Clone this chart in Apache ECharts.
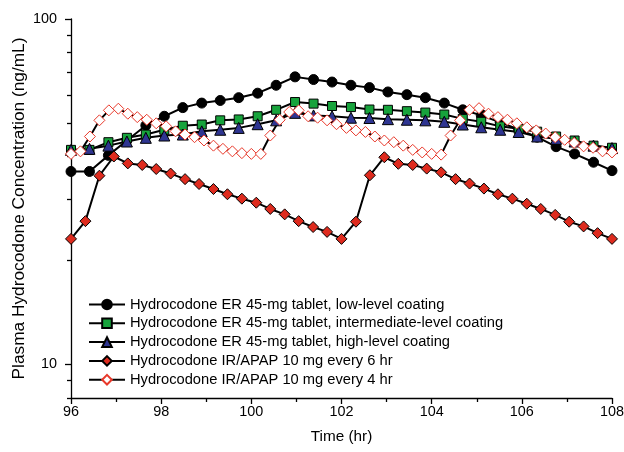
<!DOCTYPE html>
<html>
<head>
<meta charset="utf-8">
<script src="https://cdn.jsdelivr.net/npm/echarts@6/dist/echarts.min.js"></script>
<style>
  html, body { margin: 0; padding: 0; background: #fff; }
  #chart { width: 624px; height: 452px; }
</style>
</head>
<body>
<div id="chart"></div>
<script>
// sample times (hr)
const erTimes = [96, 96.41, 96.83, 97.24, 97.66, 98.07, 98.48, 98.9, 99.31, 99.72,
  100.14, 100.55, 100.97, 101.38, 101.79, 102.21, 102.62, 103.03, 103.45, 103.86,
  104.28, 104.69, 105.1, 105.52, 105.93, 106.34, 106.76, 107.17, 107.59, 108]
const q6hTimes = [96, 96.32, 96.63, 96.95, 97.26, 97.58, 97.89, 98.21, 98.53, 98.84,
  99.16, 99.47, 99.79, 100.11, 100.42, 100.74, 101.05, 101.37, 101.68, 102,
  102.32, 102.63, 102.95, 103.26, 103.58, 103.89, 104.21, 104.53, 104.84, 105.16,
  105.47, 105.79, 106.11, 106.42, 106.74, 107.05, 107.37, 107.68, 108]
const q4hTimes = [96, 96.21, 96.42, 96.63, 96.84, 97.05, 97.26, 97.47, 97.68, 97.89,
  98.11, 98.32, 98.53, 98.74, 98.95, 99.16, 99.37, 99.58, 99.79, 100,
  100.21, 100.42, 100.63, 100.84, 101.05, 101.26, 101.47, 101.68, 101.89, 102.11,
  102.32, 102.53, 102.74, 102.95, 103.16, 103.37, 103.58, 103.79, 104,
  104.21, 104.42, 104.63, 104.84, 105.05, 105.26, 105.47, 105.68, 105.89, 106.11,
  106.32, 106.53, 106.74, 106.95, 107.16, 107.37, 107.58, 107.79, 108]

// concentrations (ng/mL)
const lowCoat = [36.2, 36.2, 40.3, 44.5, 49.2, 52.3, 55.4, 57.1, 58.1, 59.2,
  61.0, 64.3, 68.0, 66.8, 65.7, 64.3, 63.3, 61.5, 60.4, 59.2,
  57.1, 54.6, 52.6, 50.2, 47.9, 45.5, 42.7, 40.7, 38.5, 36.4]
const midCoat = [41.8, 41.8, 44.0, 45.3, 46.3, 47.8, 49.1, 49.5, 50.9, 51.2,
  52.3, 54.6, 57.5, 56.9, 56.0, 55.6, 54.7, 54.6, 54.1, 53.6,
  52.9, 51.4, 50.4, 48.9, 48.1, 47.2, 45.7, 44.5, 43.0, 42.4]
const highCoat = [41.8, 42.1, 43.0, 44.2, 45.3, 46.0, 46.3, 47.3, 47.8, 48.4,
  49.6, 50.9, 53.5, 52.6, 52.3, 51.8, 51.7, 51.3, 51.1, 50.9,
  50.4, 49.5, 48.6, 47.8, 47.1, 45.7, 45.0, 44.2, 43.0, 42.3]
const irQ6h = [23.1, 26.0, 35.2, 40.0, 38.2, 37.8, 36.8, 35.7, 34.4, 33.3,
  32.2, 31.1, 30.2, 29.4, 28.2, 27.2, 26.0, 25.0, 24.2, 23.1,
  25.9, 35.3, 39.8, 38.1, 37.8, 36.9, 36.0, 34.4, 33.4, 32.3,
  31.1, 30.2, 29.2, 28.2, 27.1, 25.9, 25.1, 24.0, 23.1]
const irQ4h = [40.7, 41.4, 45.7, 50.9, 54.4, 55.0, 53.2, 52.0, 51.1, 49.9,
  48.9, 47.3, 46.3, 45.5, 44.5, 43.0, 42.1, 41.4, 40.9, 40.7,
  40.7, 46.0, 51.1, 53.8, 54.4, 52.3, 51.8, 50.9, 49.6, 48.4,
  47.6, 47.1, 45.7, 44.5, 44.0, 43.0, 41.8, 41.1, 40.7,
  40.5, 46.0, 50.9, 54.6, 55.2, 53.2, 52.0, 51.1, 49.9, 48.6,
  47.6, 46.6, 45.5, 44.7, 43.8, 42.8, 42.4, 41.4, 41.1]

const seriesNames = [
  'Hydrocodone ER 45-mg tablet, low-level coating',
  'Hydrocodone ER 45-mg tablet, intermediate-level coating',
  'Hydrocodone ER 45-mg tablet, high-level coating',
  'Hydrocodone IR/APAP 10 mg every 6 hr',
  'Hydrocodone IR/APAP 10 mg every 4 hr'
]
const xTicks = [96, 98, 100, 102, 104, 106, 108]
const yMajorTicks = [10, 100]
const yMinorTicks = [8, 9, 20, 30, 40, 50, 60, 70, 80, 90]

const font = 'Liberation Sans, Arial, sans-serif'
const zip = (xs, ys) => xs.map((x, i) => [x, ys[i]])

const makeSeries = (name, times, values, symbol, size, color, border) => ({
  name: name,
  type: 'line',
  data: zip(times, values),
  symbol: symbol,
  symbolSize: size,
  showAllSymbol: true,
  lineStyle: { color: '#000', width: 2 },
  itemStyle: { color: color, borderColor: border, borderWidth: 1 },
  emphasis: { disabled: true },
  animation: false
})

const chart = echarts.init(document.getElementById('chart'), null, { renderer: 'canvas' })
chart.setOption({
  animation: false,
  textStyle: { fontFamily: font },
  grid: { left: 71, right: 12, top: 19, bottom: 54, containLabel: false, outerBoundsMode: 'none' },
  legend: {
    orient: 'vertical',
    left: 83,
    top: 292,
    itemWidth: 36,
    itemHeight: 12,
    itemGap: 3.8,
    textStyle: { fontFamily: font, fontSize: 14.7, color: '#000', lineHeight: 14 },
    data: seriesNames
  },
  xAxis: {
    type: 'value',
    min: 96,
    max: 108,
    interval: 2,
    name: 'Time (hr)',
    nameLocation: 'middle',
    nameGap: 31,
    nameMoveOverlap: false,
    nameTextStyle: { fontFamily: font, fontSize: 15.3, color: '#000' },
    axisLine: { lineStyle: { color: '#000', width: 1.3 } },
    axisTick: { length: 6, lineStyle: { color: '#000', width: 1.3 } },
    minorTick: { show: true, splitNumber: 2, length: 4, lineStyle: { color: '#000', width: 1.3 } },
    axisLabel: { fontFamily: font, fontSize: 14.4, color: '#000', margin: 7,
      customValues: xTicks },
    splitLine: { show: false }
  },
  yAxis: [{
    type: 'log',
    logBase: 10,
    min: 8,
    max: 100,
    name: 'Plasma Hydrocodone Concentration (ng/mL)',
    nameLocation: 'middle',
    nameGap: 43,
    nameMoveOverlap: false,
    nameTextStyle: { fontFamily: font, fontSize: 17.3, color: '#000' },
    axisLine: { show: true, lineStyle: { color: '#000', width: 1.3 } },
    axisTick: { length: 6, customValues: yMajorTicks, lineStyle: { color: '#000', width: 1.3 } },
    axisLabel: { fontFamily: font, fontSize: 14.4, color: '#000', margin: 14,
      customValues: yMajorTicks },
    splitLine: { show: false }
  }, {
    type: 'log',
    logBase: 10,
    min: 8,
    max: 100,
    position: 'left',
    axisLine: { show: false },
    axisTick: { show: true, length: 4, customValues: yMinorTicks, lineStyle: { color: '#000', width: 1.3 } },
    axisLabel: { show: false },
    splitLine: { show: false }
  }],
  series: [
    makeSeries(seriesNames[0], erTimes, lowCoat, 'circle', 10, '#000', '#000'),
    makeSeries(seriesNames[1], erTimes, midCoat, 'rect', 9, '#17a33c', '#000'),
    makeSeries(seriesNames[2], erTimes, highCoat, 'triangle', 11, '#2e3591', '#000'),
    makeSeries(seriesNames[3], q6hTimes, irQ6h, 'diamond', 11, '#de2b1e', '#000'),
    makeSeries(seriesNames[4], q4hTimes, irQ4h, 'diamond', 11, '#fff', '#e8382a')
  ]
})
</script>
</body>
</html>
